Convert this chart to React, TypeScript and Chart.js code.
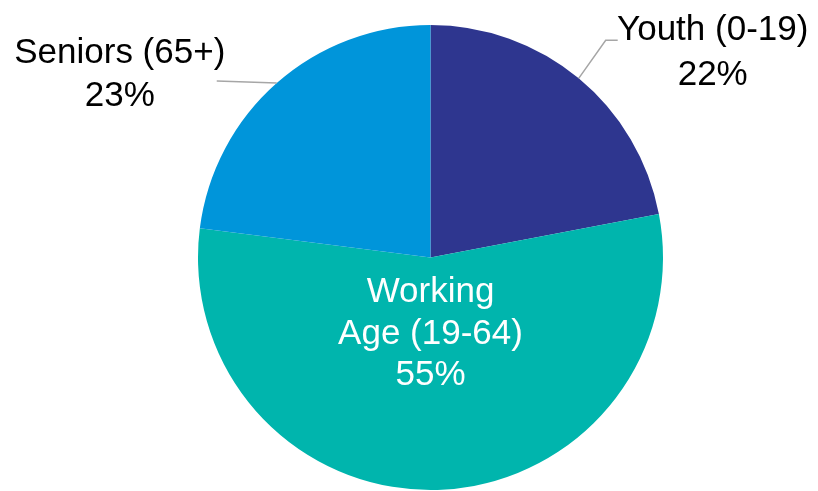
import React, { useEffect, useRef } from "react";
import { Chart, registerables } from "chart.js";

Chart.register(...registerables);

const categories = ["Youth (0-19)", "Working Age (19-64)", "Seniors (65+)"];
const labelLines = [["Youth (0-19)"], ["Working", "Age (19-64)"], ["Seniors (65+)"]];
const shares = [22, 55, 23];
const colors = ["#2E368F", "#00B5AD", "#0095DA"];

const FONT = "35px 'Liberation Sans', Arial, sans-serif";

const labelPlugin = {
  id: "pieLabels",
  afterDraw(chart: any) {
    const ctx = chart.ctx;
    const meta = chart.getDatasetMeta(0);
    const arcs = meta.data;
    ctx.save();
    ctx.font = FONT;
    ctx.textAlign = "center";
    ctx.textBaseline = "alphabetic";
    const lh = 43;

    arcs.forEach((arc: any, i: number) => {
      const p = arc.getProps(["x", "y", "startAngle", "endAngle", "outerRadius"], true);
      const mid = (p.startAngle + p.endAngle) / 2;
      const ex = p.x + Math.cos(mid) * p.outerRadius;
      const ey = p.y + Math.sin(mid) * p.outerRadius;
      const lines = [...labelLines[i], shares[i] + "%"];
      if (i === 1) {
        ctx.fillStyle = "#FFFFFF";
        const cx = p.x;
        const by = 302;
        lines.forEach((t: string, k: number) => ctx.fillText(t, cx, by + k * 41.5));
        return;
      }
      ctx.strokeStyle = "#A6A6A6";
      ctx.lineWidth = 1.5;
      ctx.beginPath();
      if (i === 0) {
        ctx.moveTo(ex, ey);
        ctx.lineTo(ex + 27, ey - 38);
        ctx.lineTo(ex + 39, ey - 38);
        ctx.stroke();
        ctx.fillStyle = "#000000";
        const cx = ex + 134;
        lines.forEach((t: string, k: number) => ctx.fillText(t, cx, ey - 38 + k * 45));
      } else {
        ctx.moveTo(ex, ey);
        ctx.lineTo(ex - 60, ey - 2);
        ctx.stroke();
        ctx.fillStyle = "#000000";
        const cx = ex - 157;
        lines.forEach((t: string, k: number) => ctx.fillText(t, cx, ey - 20 + k * 43));
      }
    });
    ctx.restore();
  },
};

export default function App() {
  const ref = useRef<HTMLCanvasElement>(null);
  useEffect(() => {
    document.body.style.margin = "0";
    const chart = new Chart(ref.current as HTMLCanvasElement, {
      type: "pie",
      data: {
        labels: categories,
        datasets: [
          {
            data: shares,
            backgroundColor: colors,
            borderWidth: 0,
          },
        ],
      },
      options: {
        animation: false,
        responsive: false,
        maintainAspectRatio: false,
        layout: { padding: { top: 25, bottom: 1, left: 198, right: 155 } },
        plugins: {
          legend: { display: false },
          tooltip: { enabled: false },
          title: { display: false },
        },
      },
      plugins: [labelPlugin],
    });
    return () => chart.destroy();
  }, []);
  return (
    <div style={{ width: 818, height: 491, background: "#fff" }}>
      <canvas ref={ref} width={818} height={491} style={{ display: "block" }} />
    </div>
  );
}
